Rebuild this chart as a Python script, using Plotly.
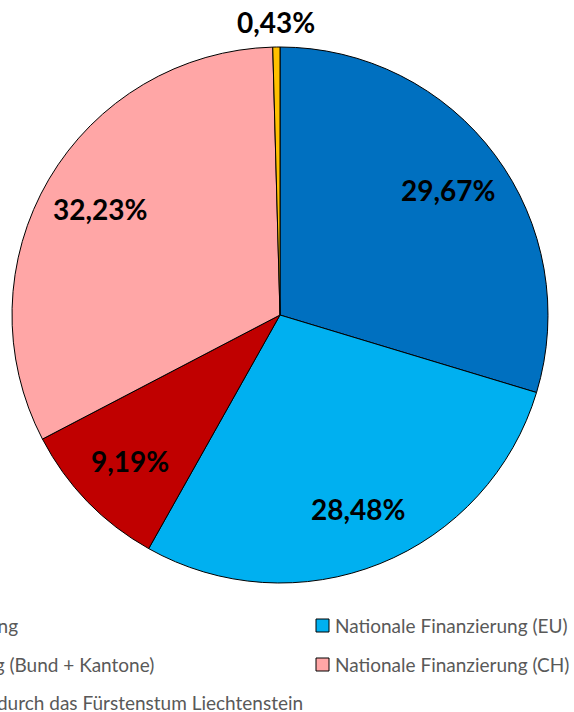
import math
import plotly.graph_objects as go

# ---- data ----
labels = [
    "EU-Finanzierung",
    "Nationale Finanzierung (EU)",
    "NRP-Finanzierung (Bund + Kantone)",
    "Nationale Finanzierung (CH)",
    "Finanzierung durch das Fürstenstum Liechtenstein",
]
values = [29.67, 28.48, 9.19, 32.23, 0.43]
colors = ["#0070C0", "#00B0F0", "#C00000", "#FFA6A6", "#FFC000"]
label_outside = [False, False, False, False, True]

W, H = 574, 712
cx, cy, R = 280, 315, 268

fig = go.Figure()
fig.add_trace(go.Pie(
    labels=labels,
    values=values,
    sort=False,
    direction="clockwise",
    rotation=0,
    marker=dict(colors=colors, line=dict(color="#000000", width=1)),
    textinfo="none",
    showlegend=False,
    hoverinfo="label+value",
    domain=dict(x=[(cx - R) / W, (cx + R) / W], y=[1 - (cy + R) / H, 1 - (cy - R) / H]),
))

annotations = []
shapes = []

# data labels placed at each slice's mid-angle (derived from the values)
total = sum(values)
cum = 0.0
for v, out in zip(values, label_outside):
    mid = (cum + v / 2) / total * 2 * math.pi
    cum += v
    rf = 1.094 if out else 0.78
    px = cx + R * rf * math.sin(mid)
    py = cy - R * rf * math.cos(mid)
    annotations.append(dict(
        x=px / W, y=1 - py / H, xref="paper", yref="paper",
        text=f"{v:.2f}%".replace(".", ","), showarrow=False,
        xanchor="center", yanchor="middle",
        font=dict(family="Lato", size=28, color="#000000", weight="bold"),
    ))

# ---- manual legend (cropped at the left edge like the reference) ----
row_y = [625, 664, 702]
left_end_x = [20, 156, 305]
leg_font = dict(family="Lato", size=19, color="#595959")
for i, name in enumerate(labels):
    row = i // 2
    col = i % 2
    y = row_y[row]
    if col == 0:
        annotations.append(dict(
            x=left_end_x[row] / W, y=1 - y / H, xref="paper", yref="paper",
            text=name, showarrow=False, xanchor="right", yanchor="middle",
            font=leg_font,
        ))
    else:
        shapes.append(dict(
            type="rect", xref="paper", yref="paper",
            x0=316 / W, x1=329 / W, y0=1 - (y + 7) / H, y1=1 - (y - 6) / H,
            fillcolor=colors[i], line=dict(color="#000000", width=1),
        ))
        annotations.append(dict(
            x=333 / W, y=1 - y / H, xref="paper", yref="paper",
            text=name, showarrow=False, xanchor="left", yanchor="middle",
            font=leg_font,
        ))

fig.update_layout(
    width=W, height=H,
    margin=dict(l=0, r=0, t=0, b=0),
    paper_bgcolor="#FFFFFF",
    plot_bgcolor="#FFFFFF",
    shapes=shapes,
    annotations=annotations,
)

fig.write_html(
    "out.html",
    config={"displayModeBar": False},
    post_script="document.body.style.margin='0';document.body.style.overflow='hidden';",
)
